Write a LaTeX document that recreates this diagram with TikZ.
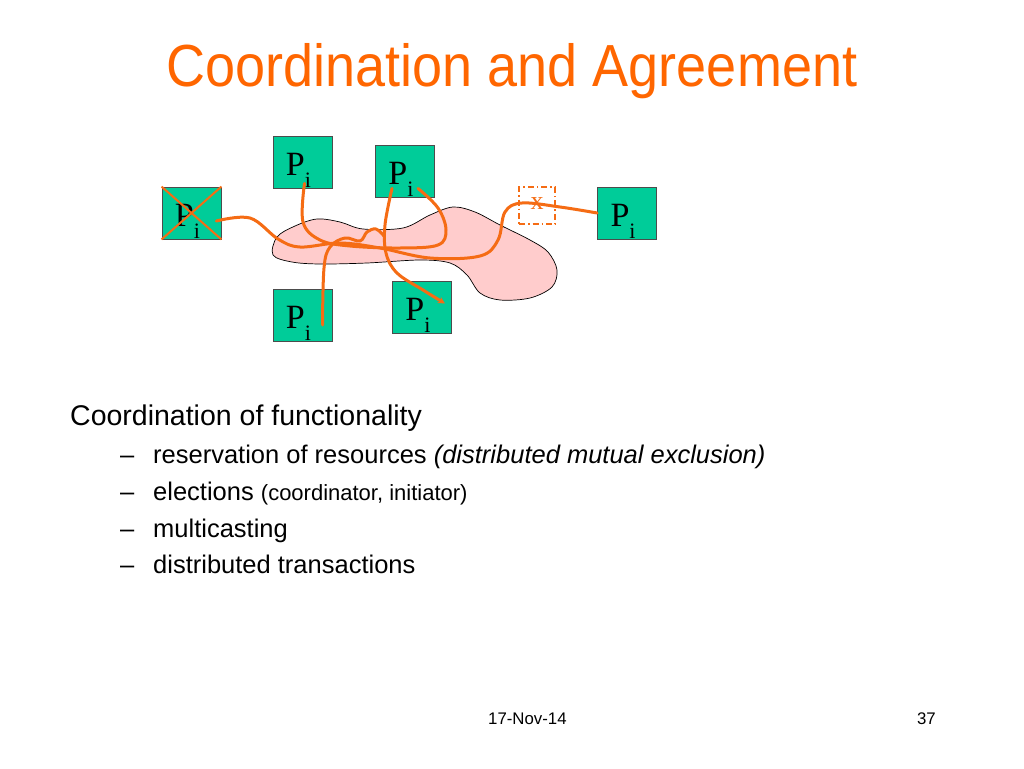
\documentclass[tikz,border=0pt]{standalone}
\usepackage{fontspec}
\setmainfont{Liberation Sans}
\newfontfamily\serifP{Liberation Serif}
\usetikzlibrary{arrows.meta}
\definecolor{ttlorange}{RGB}{255,102,0}
\definecolor{lnorange}{RGB}{245,108,20}
\definecolor{procgreen}{RGB}{0,204,153}
\definecolor{blobpink}{RGB}{255,204,204}
\tikzset{
  proc/.style={draw=black!70, line width=0.8pt, fill=procgreen, minimum width=59pt, minimum height=52pt, inner sep=0pt, font=\serifP\fontsize{34}{34}\selectfont},
  msg/.style={draw=lnorange, line width=3pt, line cap=round, line join=round},
  bodytxt/.style={anchor=base west, inner sep=0pt, font=\fontsize{25.5}{25.5}\selectfont},
  dashmark/.style={anchor=base west, inner sep=0pt, font=\fontsize{25.5}{25.5}\selectfont}
}
\newcommand{\ProcLabel}{\raisebox{-13pt}[0pt][0pt]{\makebox[0pt][c]{\kern-8pt P\raisebox{-0.36em}{\fontsize{22}{22}\selectfont i}}}}
\begin{document}
\begin{tikzpicture}[x=1pt,y=-1pt]
\useasboundingbox (0,0) rectangle (1024,768);
\fill[white] (0,0) rectangle (1024,768);
% title
\node[anchor=base, inner sep=0pt, text=ttlorange, font=\fontsize{54}{54}\selectfont] (title) at (512,86) {\scalebox{1}[1.1]{Coordination and Agreement}};
% blob
\draw[fill=blobpink, draw=black, line width=0.7pt] plot[smooth cycle, tension=0.55] coordinates {
 (273,255) (277,237) (295,226) (317,219) (340,222) (363,229) (403,228) (430,215) (453,207) (475,212) (500,225) (530,240) (548,252) (557,270) (552,287) (530,298) (500,300) (480,293) (467,275) (450,263) (420,260) (367,263) (320,264) (292,262)};
% processes
\node[proc] (pT1) at (302.5,162) {\ProcLabel};
\node[proc] (pT2) at (405,171) {\ProcLabel};
\node[proc] (pL) at (191.5,213) {\ProcLabel};
\node[proc] (pR) at (627,213) {\ProcLabel};
\node[proc] (pB1) at (302.5,315) {\ProcLabel};
\node[proc] (pB2) at (422,307.5) {\ProcLabel};
% cross on failed process
\draw[draw=lnorange, line width=2pt] (pL.north west) -- (pL.south east);
\draw[draw=lnorange, line width=2pt] (pL.south west) -- (pL.north east);
% lost message box
\node[draw=lnorange, line width=1.6pt, dash pattern=on 6pt off 3pt on 1.5pt off 3pt, minimum width=36pt, minimum height=37pt, inner sep=0pt, text=lnorange, font=\serifP\fontsize{26}{26}\selectfont] (lost) at (537,205.5) {\raisebox{0.15em}{x}};
% anchor coordinates
\coordinate (sL) at ([xshift=-5pt,yshift=-8pt]pL.east);
\coordinate (eR) at (pR.west);
\coordinate (sT1) at ([xshift=2pt,yshift=5pt]pT1.south);
\coordinate (sT2a) at ([xshift=-13pt,yshift=9pt]pT2.south);
\coordinate (sT2b) at ([xshift=13pt,yshift=9pt]pT2.south);
\coordinate (sB1) at ([xshift=20pt,yshift=-10pt]pB1.center);
\coordinate (eB2) at ([xshift=23pt,yshift=4pt]pB2.center);
% messages
\draw[msg] plot[smooth, tension=0.6] coordinates {(sL) (250,218) (278,239) (300,247) (340,243) (380,248) (430,258) (480,256) (498,240) (505,212) (522,203) (560,207) (eR)};
\draw[msg] plot[smooth, tension=0.6] coordinates {(sT1) (303,222) (320,240) (350,246) (400,248) (438,245) (446,230) (438,208) (sT2b)};
\draw[msg] plot[smooth, tension=0.6] coordinates {(sB1) (324,268) (330,247) (345,238) (360,241) (367,232) (376,229) (384,236)};
\draw[msg, -{Stealth[length=7pt,width=7pt]}] plot[smooth, tension=0.6] coordinates {(sT2a) (385,225) (386,253) (397,273) (423,290) (eB2)};
% body text
\node[anchor=base west, inner sep=0pt, font=\fontsize{28.5}{28.5}\selectfont] (head) at (70,425) {Coordination of functionality};
\node[dashmark] (d1) at (120,463) {\textendash};
\node[bodytxt] (t1) at (153,463) {reservation of resources \textit{(distributed mutual exclusion)}};
\node[dashmark] (d2) at (120,500) {\textendash};
\node[bodytxt] (t2) at (153,500) {elections {\fontsize{22}{22}\selectfont (coordinator, initiator)}};
\node[dashmark] (d3) at (120,537) {\textendash};
\node[bodytxt] (t3) at (153,537) {multicasting};
\node[dashmark] (d4) at (120,573) {\textendash};
\node[bodytxt] (t4) at (153,573) {distributed transactions};
% footer
\node[anchor=base west, inner sep=0pt, font=\fontsize{16.8}{16.8}\selectfont] (date) at (488,724) {17-Nov-14};
\node[anchor=base east, inner sep=0pt, font=\fontsize{16.8}{16.8}\selectfont] (page) at (936,724) {37};
\end{tikzpicture}
\end{document}
